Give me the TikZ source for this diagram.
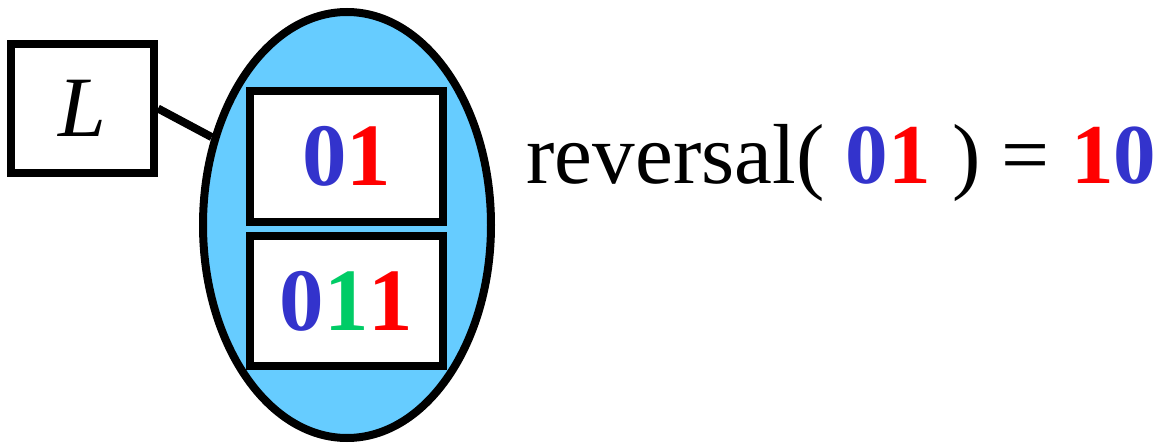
\documentclass[tikz,border=0pt]{standalone}
\usepackage{fontspec}
\setmainfont{Liberation Serif}
\usetikzlibrary{shapes.geometric}
\definecolor{dblue}{HTML}{3333CC}
\definecolor{dred}{HTML}{FF0000}
\definecolor{dgreen}{HTML}{00CC66}
\definecolor{skyfill}{HTML}{66CCFF}
\begin{document}
\begin{tikzpicture}[x=0.5pt,y=-0.5pt,
  bigfont/.style={font=\fontsize{43}{46}\selectfont},
  digfont/.style={font=\fontsize{44.5}{48}\selectfont\bfseries},
  strbox/.style={draw=black,line width=4pt,fill=white,rectangle,inner sep=0pt},
  setell/.style={draw=black,line width=4pt,fill=skyfill,ellipse,inner sep=0pt,minimum width=144pt,minimum height=213pt},
  conn/.style={draw=black,line width=4pt}]
\useasboundingbox (0,0) rectangle (1158,444);
\node[setell] (ell) at (347,225) {};
\node[strbox,bigfont,minimum width=71.5pt,minimum height=64.5pt] (L) at (82.5,108.5) {\textit{L}};
\draw[conn] (L.east) -- (ell.147);
\node[strbox,digfont,minimum width=96.5pt,minimum height=65.5pt] (s1) at (346.5,156.5) {\textcolor{dblue}{0}\textcolor{dred}{1}};
\node[strbox,digfont,minimum width=96.5pt,minimum height=65pt] (s2) at (346.5,301) {\textcolor{dblue}{0}\textcolor{dgreen}{1}\textcolor{dred}{1}};
\node[font=\fontsize{42.6}{46}\selectfont,anchor=base west,inner sep=0pt] (rev) at (526,184) {reversal( \textbf{\textcolor{dblue}{0}\textcolor{dred}{1}} ) = \textbf{\textcolor{dred}{1}\textcolor{dblue}{0}}};
\end{tikzpicture}
\end{document}
